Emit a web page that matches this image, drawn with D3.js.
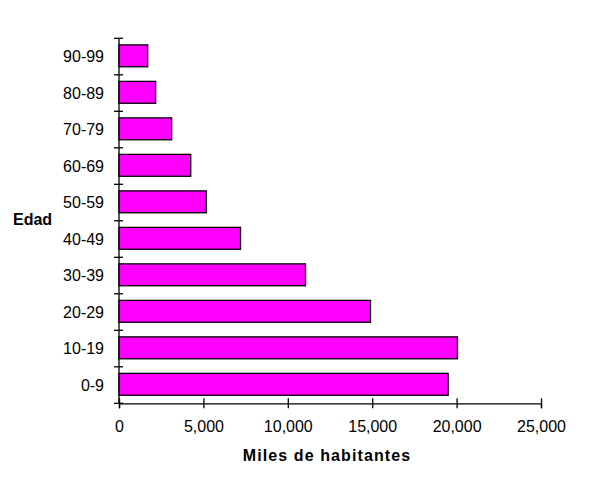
<!DOCTYPE html>
<html>
<head>
<meta charset="utf-8">
<script src="https://cdn.jsdelivr.net/npm/d3@7"></script>
<style>
  body { margin: 0; background: #fff; }
  text { font-family: Arial, "Liberation Sans", sans-serif; fill: #000; }
</style>
</head>
<body>
<div id="chart-area"></div>
<script>
// age groups, bottom to top as in the picture
var grupos = ["0-9", "10-19", "20-29", "30-39", "40-49", "50-59", "60-69", "70-79", "80-89", "90-99"];
var habitantes = [19500, 20050, 14900, 11050, 7200, 5170, 4250, 3120, 2170, 1700];
var xTicks = [0, 5000, 10000, 15000, 20000, 25000];

var margin = { left: 119, right: 50, top: 38.3, bottom: 76.7 };
var width = 591 - margin.left - margin.right;
var height = 480 - margin.top - margin.bottom;

var svg = d3.select("#chart-area")
    .append("svg")
        .attr("width", 591)
        .attr("height", 480);

var g = svg.append("g")
    .attr("transform", "translate(" + margin.left + "," + margin.top + ")");

var data = grupos.map(function(d, i){ return { grupo: d, valor: habitantes[i] }; });

var x = d3.scaleLinear()
    .domain([0, 25000])
    .range([0, width]);

// top category first
var y = d3.scaleBand()
    .domain(grupos.slice().reverse())
    .range([0, height])
    .paddingInner(0.4)
    .paddingOuter(0.2)
    .align(0.45);

// bars
g.selectAll("rect")
    .data(data)
    .enter()
    .append("rect")
        .attr("x", x(0))
        .attr("y", function(d){ return y(d.grupo); })
        .attr("width", function(d){ return x(d.valor) - x(0); })
        .attr("height", y.bandwidth())
        .attr("fill", "#ff00ff")
        .attr("stroke", "#000")
        .attr("stroke-width", 1.3);

// y axis: labels only, ticks between categories drawn below
var yAxisCall = d3.axisLeft(y).tickSize(0).tickPadding(15);
var yAxis = g.append("g")
    .attr("class", "y axis")
    .call(yAxisCall);
yAxis.select(".domain").remove();
yAxis.selectAll("text")
    .attr("font-size", "16px")
    .attr("dy", "0.4em")
    .style("font-family", "Arial, 'Liberation Sans', sans-serif");

var bounds = d3.range(grupos.length + 1).map(function(i){ return i * height / grupos.length; });
g.append("line")
    .attr("x1", 0).attr("x2", 0)
    .attr("y1", 0).attr("y2", height)
    .attr("stroke", "#000").attr("stroke-width", 1.3);
g.selectAll(".ytick")
    .data(bounds)
    .enter()
    .append("line")
        .attr("class", "ytick")
        .attr("x1", -5).attr("x2", 4)
        .attr("y1", function(d){ return d; })
        .attr("y2", function(d){ return d; })
        .attr("stroke", "#000").attr("stroke-width", 1.3);

// x axis
var xAxisCall = d3.axisBottom(x)
    .tickValues(xTicks)
    .tickSizeOuter(0)
    .tickSize(5)
    .tickFormat(d3.format(","));

var xAxis = g.append("g")
    .attr("class", "x axis")
    .attr("transform", "translate(0," + height + ")")
    .call(xAxisCall);
xAxis.select(".domain").attr("stroke-width", 1.3);
xAxis.selectAll(".tick line")
    .attr("y1", -5)
    .attr("stroke-width", 1.3);
xAxis.selectAll("text")
    .attr("font-size", "16px")
    .attr("y", 29)
    .attr("dy", 0)
    .style("font-family", "Arial, 'Liberation Sans', sans-serif");

// axis titles
svg.append("text")
    .attr("x", 327)
    .attr("y", 461)
    .attr("text-anchor", "middle")
    .attr("font-size", "16px")
    .attr("font-weight", "bold")
    .style("letter-spacing", "1.1px")
    .text("Miles de habitantes");

svg.append("text")
    .attr("x", 13)
    .attr("y", 225)
    .attr("font-size", "16px")
    .attr("font-weight", "bold")
    .text("Edad");
</script>
</body>
</html>
